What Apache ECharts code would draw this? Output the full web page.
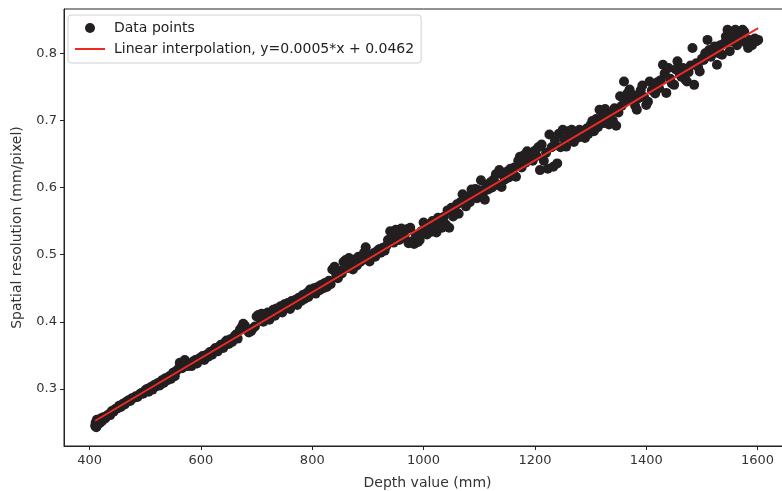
<!DOCTYPE html>
<html>
<head>
<meta charset="utf-8">
<script src="https://cdn.jsdelivr.net/npm/echarts@6/dist/echarts.min.js"></script>
<style>
html,body{margin:0;padding:0;background:#fff;}
#chart{width:782px;height:491px;}
</style>
</head>
<body>
<div id="chart"></div>
<script>
// Depth values (mm) of measured points
const depth = [
410,411,412,413,414,416,418,420,422,425,428,431,434,437,440,443,446,450,453,456,460,463,466,470,473,476,480,483,486,490,493,496,500,
503,506,510,513,516,520,523,526,530,533,536,540,543,546,550,553,556,560,562,566,570,571,576,580,583,586,590,593,596,600,
603,606,610,613,616,620,623,626,630,633,636,640,643,646,650,653,656,660,663,666,670,673,676,679,682,686,690,693,697,700,703,706,
709,712,716,720,723,726,730,733,736,740,743,746,750,753,756,760,763,766,770,773,776,780,783,786,790,793,796,800,
803,806,810,813,816,820,823,826,830,833,836,840,843,846,850,853,856,860,863,866,870,873,876,880,883,886,890,893,896,900,903,
906,910,913,916,920,923,926,930,933,936,940,943,946,950,953,956,960,963,966,970,973,976,980,983,986,990,993,996,1000,
1003,1006,1010,1013,1016,1020,1023,1026,1030,1033,1036,1040,1043,1046,1050,1053,1056,1060,1063,1066,1070,1073,1076,1080,1083,1086,1090,1093,1096,1100,
1103,1106,1110,1113,1116,1120,1123,1126,1130,1133,1136,1140,1143,1146,1150,1153,1156,1160,1163,1166,1170,1173,1176,1180,1183,1186,1190,1193,1196,1200,
1203,1206,1209,1212,1216,1220,1223,1226,1230,1233,1236,1240,1243,1246,1250,1253,1256,1260,1263,1266,1270,1273,1276,1280,1283,1286,1290,1293,1296,1300,
1303,1306,1310,1313,1316,1320,1323,1326,1330,1333,1336,1340,1343,1346,1350,1353,1356,1360,1363,1366,1370,1373,1376,1380,1383,1386,1390,1393,1396,1400,1403,
1406,1410,1413,1416,1420,1423,1426,1430,1433,1436,1440,1443,1446,1450,1453,1456,1460,1463,1466,1470,1473,1476,1480,1483,1486,1490,1493,1496,1500,
1503,1506,1510,1513,1516,1520,1523,1527,1530,1533,1536,1540,1543,1546,1550,1553,1556,1560,1563,1566,1570,1573,1576,1580,1583,1586,1590,1595,1598,1601
];
// Spatial resolution (mm/pixel) of measured points
const resolution = [
0.245,0.250,0.243,0.254,0.247,0.252,0.249,0.256,0.252,0.258,0.256,0.260,0.262,0.261,0.267,0.266,0.270,0.271,0.275,0.273,0.278,0.277,0.281,0.283,0.282,0.286,0.287,0.289,0.288,0.292,0.294,0.293,0.298,
0.300,0.296,0.303,0.299,0.306,0.304,0.309,0.305,0.313,0.309,0.316,0.313,0.319,0.315,0.324,0.319,0.327,0.330,0.339,0.331,0.336,0.343,0.334,0.338,0.334,0.341,0.343,0.338,0.345,0.347,
0.349,0.343,0.351,0.348,0.355,0.351,0.358,0.361,0.356,0.363,0.366,0.361,0.369,0.372,0.367,0.374,0.370,0.378,0.381,0.375,0.388,0.392,0.397,0.394,0.389,0.384,0.386,0.390,0.393,0.408,0.410,0.405,
0.412,0.400,0.409,0.414,0.403,0.411,0.418,0.409,0.420,0.417,0.423,0.414,0.426,0.421,0.428,0.419,0.431,0.426,0.433,0.425,0.436,0.431,0.440,0.434,0.443,0.437,0.448,0.445,
0.450,0.442,0.452,0.447,0.455,0.450,0.458,0.452,0.461,0.456,0.478,0.482,0.470,0.465,0.476,0.472,0.489,0.492,0.480,0.495,0.486,0.478,0.493,0.484,0.497,0.489,0.492,0.503,0.511,0.498,0.490,
0.499,0.502,0.497,0.505,0.508,0.503,0.510,0.506,0.513,0.522,0.535,0.527,0.518,0.537,0.530,0.522,0.539,0.533,0.525,0.538,0.517,0.540,0.520,0.516,0.530,0.519,0.522,0.535,0.548,
0.538,0.530,0.545,0.534,0.550,0.540,0.533,0.555,0.547,0.540,0.556,0.545,0.566,0.540,0.570,0.557,0.564,0.575,0.561,0.578,0.590,0.583,0.572,0.586,0.578,0.597,0.588,0.598,0.584,0.596,
0.611,0.590,0.582,0.603,0.597,0.608,0.600,0.612,0.620,0.604,0.626,0.601,0.618,0.612,0.624,0.615,0.628,0.619,0.630,0.616,0.640,0.646,0.630,0.648,0.637,0.654,0.643,0.650,0.640,0.655,
0.647,0.660,0.626,0.664,0.640,0.652,0.628,0.679,0.660,0.631,0.670,0.636,0.680,0.660,0.686,0.672,0.661,0.684,0.675,0.686,0.668,0.682,0.674,0.686,0.676,0.684,0.674,0.688,0.680,0.693,
0.699,0.684,0.702,0.690,0.716,0.704,0.696,0.717,0.705,0.694,0.710,0.700,0.718,0.692,0.712,0.736,0.722,0.758,0.728,0.740,0.746,0.731,0.738,0.722,0.716,0.733,0.745,0.752,0.735,0.723,0.728,
0.758,0.745,0.752,0.740,0.757,0.748,0.760,0.783,0.770,0.741,0.778,0.762,0.755,0.753,0.776,0.788,0.770,0.765,0.778,0.761,0.758,0.772,0.782,0.808,0.753,0.785,0.780,0.773,0.792,
0.790,0.800,0.820,0.805,0.795,0.803,0.810,0.783,0.800,0.812,0.798,0.815,0.825,0.835,0.803,0.818,0.828,0.835,0.812,0.826,0.820,0.835,0.832,0.815,0.808,0.820,0.812,0.822,0.818,0.820
];
// Fitted line end points
const fitDepth = [410, 1601];
const fitResolution = [0.2526, 0.8374];
const xTicks = [400, 600, 800, 1000, 1200, 1400, 1600];
const yTicks = [0.3, 0.4, 0.5, 0.6, 0.7, 0.8];

const scatterData = depth.map((d, i) => [d, resolution[i]]);
const fitData = fitDepth.map((d, i) => [d, fitResolution[i]]);

const font = 'DejaVu Sans';
const lineName = 'Linear interpolation, y=0.0005*x + 0.0462';
const chart = echarts.init(document.getElementById('chart'), null, {renderer: 'canvas'});
chart.setOption({
  animation: false,
  backgroundColor: '#fff',
  grid: {left: 64, top: 9, width: 727, height: 437, outerBoundsMode: 'none', containLabel: false,
    show: true, borderColor: '#222', borderWidth: 1, backgroundColor: 'transparent'},
  legend: {
    orient: 'vertical', left: 68, top: 15,
    padding: [5, 7, 6, 7], itemGap: 5, itemWidth: 30, itemHeight: 10,
    backgroundColor: '#fff', borderColor: '#d0d0d0', borderWidth: 1, borderRadius: 3,
    textStyle: {fontFamily: font, fontSize: 14, color: '#222', padding: [0, 0, 0, 4], lineHeight: 16},
    data: [
      {name: 'Data points', icon: 'circle', itemStyle: {color: '#231f20'}},
      {name: lineName, icon: 'path://M0,0h60v4h-60z', itemStyle: {color: '#ee2a24'}}
    ]
  },
  xAxis: {
    type: 'value', min: 354, max: 1660,
    name: 'Depth value (mm)', nameLocation: 'middle', nameGap: 30,
    nameTextStyle: {fontFamily: font, fontSize: 14, color: '#333'},
    axisLine: {show: true, lineStyle: {color: '#222', width: 1}},
    axisTick: {show: true, length: 4, lineStyle: {color: '#222'}, customValues: xTicks},
    axisLabel: {fontFamily: font, fontSize: 13, color: '#333', margin: 8, customValues: xTicks,
      formatter: v => String(v)},
    splitLine: {show: false}
  },
  yAxis: {
    type: 'value', min: 0.215, max: 0.866,
    name: 'Spatial resolution (mm/pixel)', nameLocation: 'middle', nameGap: 40,
    nameTextStyle: {fontFamily: font, fontSize: 14, color: '#333'},
    axisLine: {show: true, lineStyle: {color: '#222', width: 1}},
    axisTick: {show: true, length: 4, lineStyle: {color: '#222'}, customValues: yTicks},
    axisLabel: {fontFamily: font, fontSize: 13, color: '#333', margin: 7, customValues: yTicks,
      formatter: v => v.toFixed(1)},
    splitLine: {show: false}
  },
  series: [
    {name: 'Data points', type: 'scatter', data: scatterData, symbolSize: 10,
     itemStyle: {color: '#231f20', opacity: 1}, z: 2},
    {name: lineName, type: 'line', data: fitData,
     symbol: 'none', lineStyle: {color: '#ee2a24', width: 2}, itemStyle: {color: '#ee2a24'}, z: 3}
  ]
});
</script>
</body>
</html>
